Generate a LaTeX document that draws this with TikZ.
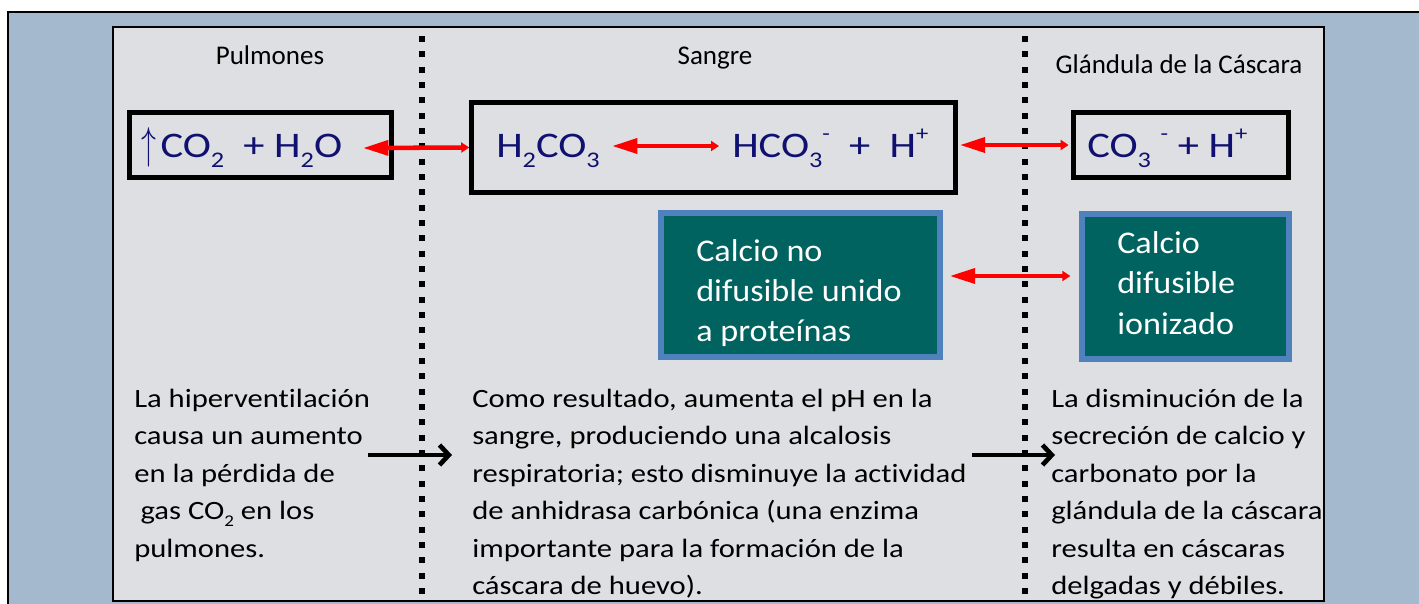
\documentclass[tikz,border=0pt]{standalone}
\usepackage{fontspec}
\usepackage{graphicx}
\setmainfont{Carlito}
\newfontfamily\bodyfont{Carlito}[FakeStretch=1.16, Ligatures=NoCommon]
\newfontfamily\tealfont{Carlito}[FakeStretch=1.08, Ligatures=NoCommon]
\newfontfamily\formfont{Carlito}[FakeStretch=1.18]
\usetikzlibrary{arrows.meta}
\definecolor{bgblue}{RGB}{164,185,206}
\definecolor{panelgray}{RGB}{222,223,226}
\definecolor{tealfill}{RGB}{0,99,96}
\definecolor{borderblue}{RGB}{79,129,189}
\definecolor{formnavy}{RGB}{16,16,112}
\newcommand\mysub[1]{\raisebox{-0.28em}{\scalebox{0.62}{#1}}}
\newcommand\mysup[1]{\raisebox{0.45em}{\scalebox{0.58}{#1}}}
\tikzset{
  sepline/.style={line width=4.5pt, dash pattern=on 4.5pt off 7pt},
  head/.style={anchor=base, inner sep=0pt, font=\fontsize{20.25pt}{24pt}\selectfont},
  formbox/.style={draw=black, line width=3.4pt, minimum width=#1, inner sep=0pt},
  form/.style={anchor=base west, inner sep=0pt, text=formnavy, font=\formfont\fontsize{27pt}{30pt}\selectfont},
  tealbox/.style={draw=borderblue, fill=tealfill, line width=4.5pt, inner sep=0pt},
  tealtxt/.style={anchor=base west, inner sep=0pt, text=white, font=\tealfont\fontsize{23.7pt}{28pt}\selectfont},
  body/.style={anchor=base west, inner sep=0pt, text=black, font=\bodyfont\fontsize{19.8pt}{24pt}\selectfont},
  redarrow/.style={draw=red, line width=3.4pt, {Triangle[length=19pt,width=11pt]}-{Triangle[length=6pt,width=7.5pt]}},
  blackarrow/.style={draw=black, line width=3.5pt, -{Straight Barb[length=7pt,width=15pt]}},
}
\begin{document}
\begin{tikzpicture}[x=0.75pt,y=-0.75pt]
\useasboundingbox (0,0) rectangle (1419,603);
\fill[white] (0,0) rectangle (1419,603);
\path[fill=bgblue, draw=black, line width=0.8pt] (8,12) rectangle (1440,620);
\path[fill=panelgray, draw=black, line width=1pt] (113,27) rectangle (1324,601);
% separators
\draw[sepline] (421.5,36) -- (421.5,603);
\draw[sepline] (1024.7,36) -- (1024.7,603);
% headers
\node[head] (h1) at (270,64) {Pulmones};
\node[head] (h2) at (715,64) {Sangre};
\node[head] (h3) at (1179,73) {Glándula de la Cáscara};
% formula boxes
\node[formbox=196.5pt, minimum height=48.75pt] (b1) at (260.5,145) {};
\node[formbox=363pt, minimum height=67.5pt] (b2) at (713.5,147.5) {};
\node[formbox=161.25pt, minimum height=48.75pt] (b3) at (1181,145) {};
\node[form] (f1) at (141,157) {\raisebox{-0.05em}{\scalebox{0.9}[1.35]{$\uparrow$}}\hspace{0.12em}CO\mysub{2}\ \ + H\mysub{2}O};
\node[form] (f2a) at (496,157) {H\mysub{2}CO\mysub{3}};
\node[form] (f2b) at (732,157) {HCO\mysub{3}\mysup{-}\ \ +\ \ H\mysup{+}};
\node[form] (f3) at (1087,157) {CO\mysub{3}\ \mysup{-} + H\mysup{+}};
% teal boxes
\node[tealbox, minimum width=209.25pt, minimum height=108pt] (t1) at (800.5,285) {};
\node[tealbox, minimum width=155.25pt, minimum height=108.75pt] (t2) at (1185.5,286.5) {};
\node[tealtxt] (t1a) at (696,261) {Calcio no};
\node[tealtxt] (t1b) at (696,301) {difusible unido};
\node[tealtxt] (t1c) at (696,341) {a proteínas};
\node[tealtxt] (t2a) at (1117,253) {Calcio};
\node[tealtxt] (t2b) at (1117,293) {difusible};
\node[tealtxt] (t2c) at (1117,334) {ionizado};
% red arrows
\coordinate (a1s) at (363,148);
\draw[redarrow] (a1s) -- (b2.west);
\coordinate (a2s) at (612,146);
\coordinate (a2e) at (719,146);
\draw[redarrow] (a2s) -- (a2e);
\draw[redarrow, shorten <=1.5pt, shorten >=2pt] (b2.east|-b3.west) -- (b3.west);
\coordinate (a4) at (1000,276);
\draw[redarrow, shorten <=5pt, shorten >=6.5pt] (t1.east|-a4) -- (t2.west|-a4);
% body text
\foreach \t [count=\i] in {La hiperventilación, causa un aumento, en la pérdida de, {\hspace*{0.24em}gas CO\mysub{2} en los}, pulmones.}
  \node[body] (p\i) at (134,{407+37.5*(\i-1)}) {\t};
\foreach \t [count=\i] in {{Como resultado, aumenta el pH en la}, {sangre, produciendo una alcalosis}, {respiratoria; esto disminuye la actividad}, de anhidrasa carbónica (una enzima, importante para la formación de la, cáscara de huevo).}
  \node[body] (s\i) at (472,{407+37.5*(\i-1)}) {\t};
\foreach \t [count=\i] in {La disminución de la, secreción de calcio y, carbonato por la, glándula de la cáscara, resulta en cáscaras, delgadas y débiles.}
  \node[body] (g\i) at (1051,{407+37.5*(\i-1)}) {\t};
% black arrows
\coordinate (k1s) at (368,455);
\coordinate (k1e) at (452,455);
\draw[blackarrow] (k1s) -- (k1e);
\coordinate (k2s) at (972,455);
\coordinate (k2e) at (1055,455);
\draw[blackarrow] (k2s) -- (k2e);
\end{tikzpicture}
\end{document}
